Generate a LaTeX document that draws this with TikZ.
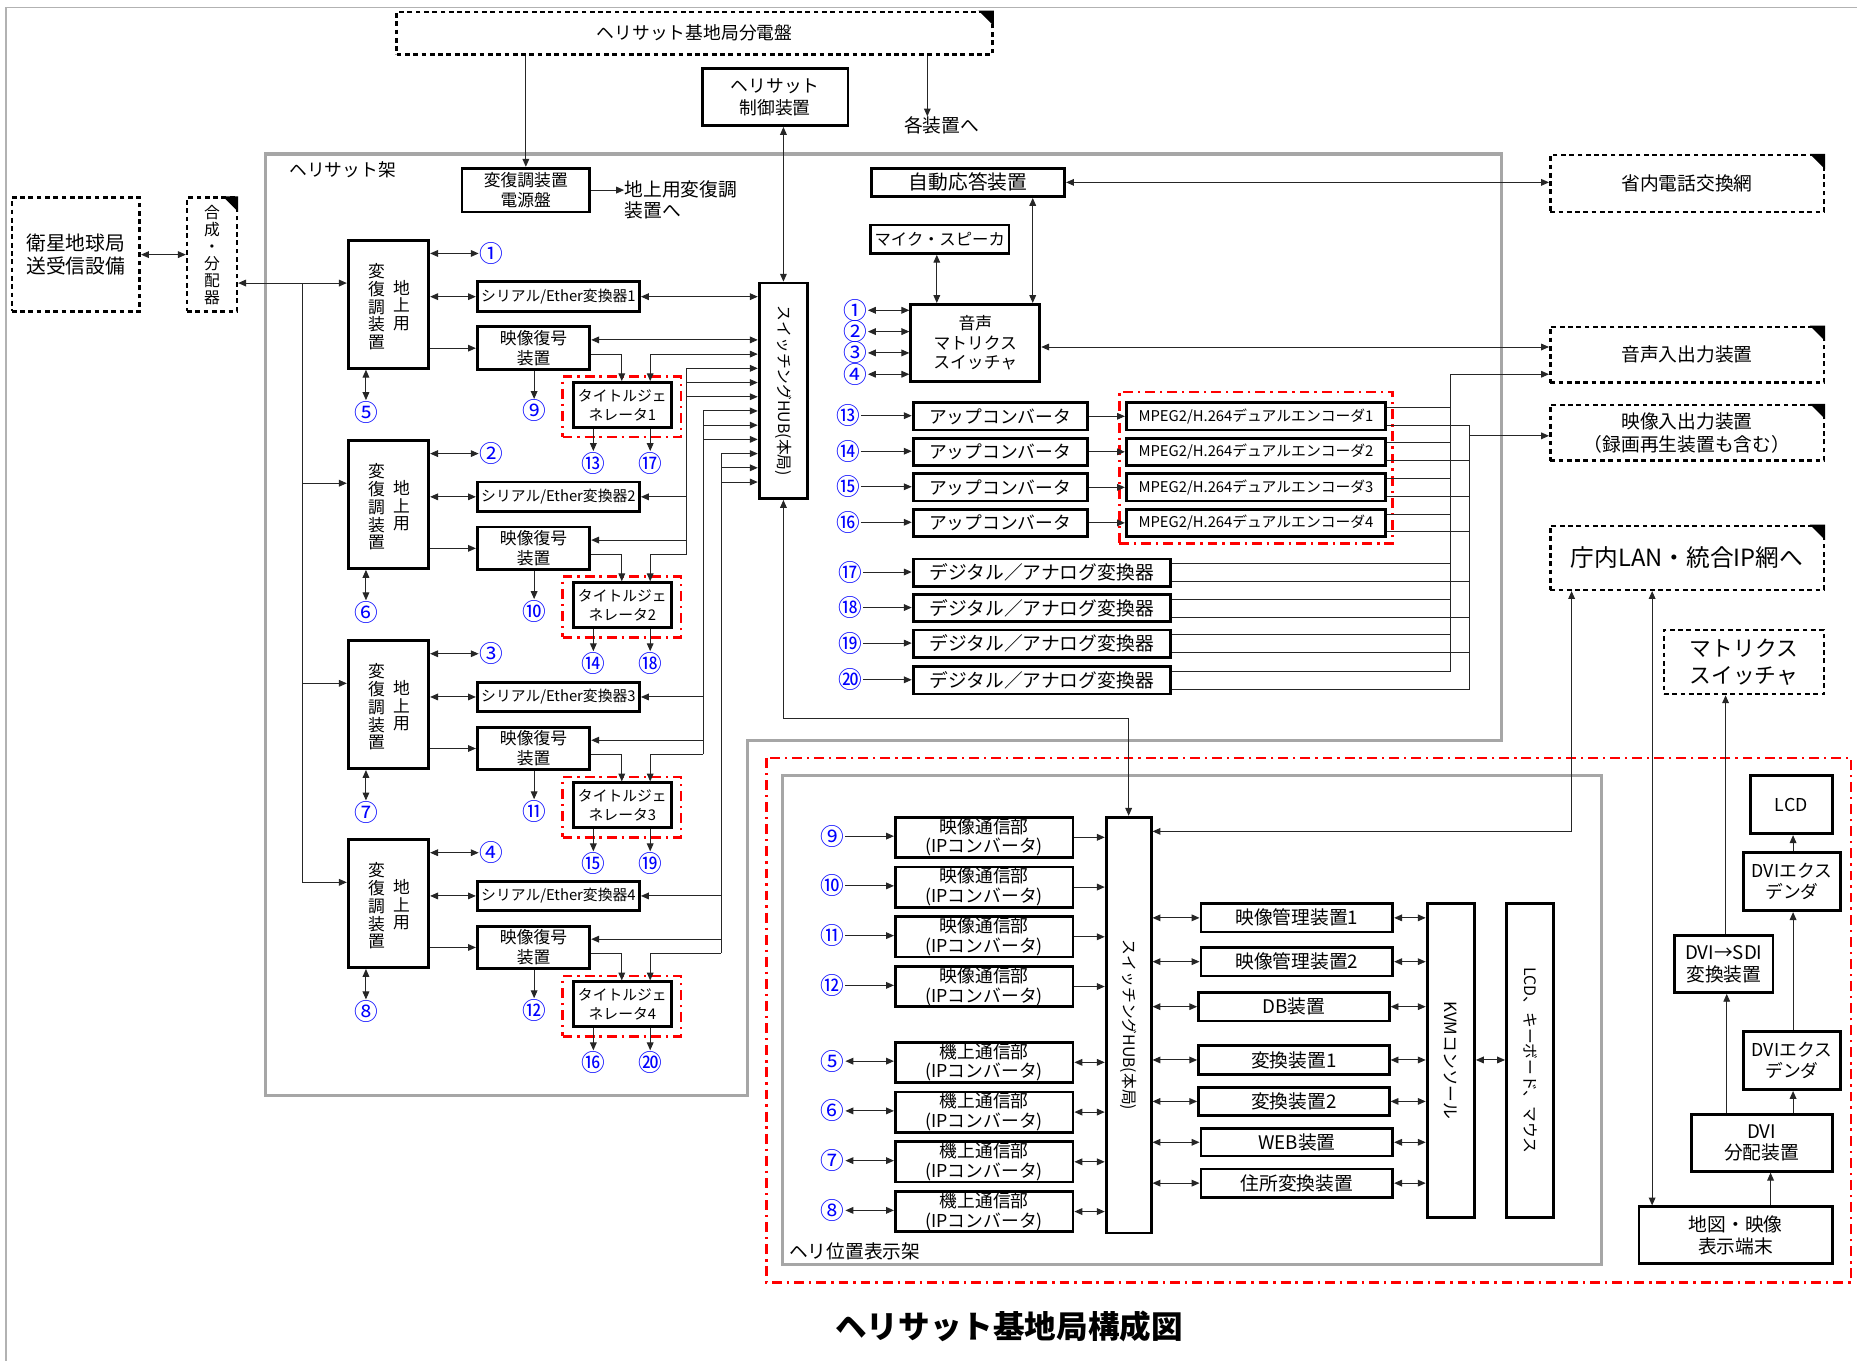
\documentclass[tikz,border=0pt]{standalone}
\usepackage{fontspec}
\setmainfont{Noto Sans CJK JP}
\usetikzlibrary{arrows.meta,calc}
\newcommand\fs[2]{\fontsize{#1}{#2}\selectfont}
\newcommand\corner[1]{\fill ($(#1.north east)+(-13,0)$) -- (#1.north east) -- ($(#1.north east)+(0,13)$) -- cycle;}
\newcommand\bx[7]{\node[#1, minimum width={((#4)-(#2))*0.6pt}, minimum height={((#5)-(#3))*0.6pt}] (#6) at ({((#2)+(#4))/2},{((#3)+(#5))/2}) {#7};}
\tikzset{
 B/.style={draw, line width=1.4pt, inner sep=0pt, align=center},
 D/.style={draw, line width=1.3pt, dash pattern=on 2.4pt off 1.8pt, inner sep=0pt, align=center},
 R/.style={draw=red, line width=1.4pt, dash pattern=on 5pt off 2.5pt on 1.2pt off 2.5pt, inner sep=0pt},
 G/.style={draw=gray!70, line width=1.6pt},
 ln/.style={line width=0.5pt, black!85},
 a/.style={ln, -{Triangle[length=4pt,width=3.4pt]}},
 aa/.style={ln, {Triangle[length=4pt,width=3.4pt]}-{Triangle[length=4pt,width=3.4pt]}},
 cn/.style={text=blue, font=\fs{12}{12}, inner sep=0.3pt},
 lab/.style={inner sep=0pt, align=left},
}
\begin{document}
\begin{tikzpicture}[x=0.6pt, y=-0.6pt]
\useasboundingbox (0,0) rectangle (1568,1149);
\draw[gray!60, line width=0.6pt] (5,1149) -- (5,6) -- (1568,6);

% frames
\draw[G] (224,130) -- (1268,130) -- (1268,625) -- (631,625) -- (631,925) -- (224,925) -- cycle;
\node[lab, anchor=west, font=\fs{9}{10}] (flabel) at (244,143) {ヘリサット架};
\draw[R] (647,640) rectangle (1563,1083);
\draw[G] (661,655) rectangle (1352,1068);
\node[lab, anchor=west, font=\fs{9.5}{10}] (hlabel) at (666,1057) {ヘリ位置表示架};

% top
\bx{D, font=\fs{9}{10}}{335}{10}{838}{46}{pd}{ヘリサット基地局分電盤}
\corner{pd}
\bx{B, font=\fs{9}{11}}{593}{58}{716}{106}{ctl}{ヘリサット\\制御装置}
\node[lab, font=\fs{9.5}{10}] (kak) at (795,106) {各装置へ};
\draw[a] (pd.south -| 783,0) -- (kak.north -| 783,0);
\bx{B, font=\fs{8.5}{10}}{390}{142}{498}{179}{psu}{変復調装置\\電源盤}
\draw[a] (pd.south -| psu.north) -- (psu.north);
\node[lab, anchor=north west, font=\fs{9.5}{11}] (chijo) at (527,152) {地上用変復調\\装置へ};
\draw[a] (psu.east) -- (chijo.north west |- psu.east);

% left
\bx{D, font=\fs{10}{12}}{10}{167}{118}{263}{eisei}{衛星地球局\\送受信設備}
\bx{D}{158}{167}{200}{263}{gosei}{}
\corner{gosei}
\node[font=\fs{8}{8.6}, align=center, inner sep=0pt] (goseit) at (gosei.center) {合\\成\\・\\分\\配\\器};
\draw[aa] (eisei.east) -- (gosei.west |- eisei.east);

% hub 1
\bx{B}{641}{239}{682}{421}{hub1}{}
\node[rotate=-90, font=\fs{8}{9}, inner sep=0pt] (hub1t) at (hub1.center) {スイッチングHUB(本局)};
\draw[aa] (ctl.south -| hub1.north) -- (hub1.north);

% units
\foreach \k/\T/\ca/\cb/\cc/\cd/\ce in {1/203/①/⑤/⑨/⑬/⑰,2/372/②/⑥/⑩/⑭/⑱,3/541/③/⑦/⑪/⑮/⑲,4/709/④/⑧/⑫/⑯/⑳}{
 \bx{B}{294}{\T}{362}{\T+108}{u\k}{}
 \node[font=\fs{8.5}{9}, align=center, inner sep=0pt] (ul\k) at (318,\T+56) {変\\復\\調\\装\\置};
 \node[font=\fs{8.5}{9}, align=center, inner sep=0pt] (ur\k) at (339,\T+55) {地\\上\\用};
 \bx{B, font=\fs{7.5}{9}}{403}{\T+35}{540}{\T+60}{ser\k}{シリアル/Ether変換器\k}
 \bx{B, font=\fs{8.5}{10}}{403}{\T+73}{498}{\T+109}{dec\k}{映像復号\\装置}
 \bx{R}{475}{\T+115}{575}{\T+166}{tgo\k}{}
 \bx{B, font=\fs{7.5}{9.5}}{484}{\T+120}{567}{\T+158}{tg\k}{タイトルジェ\\ネレータ\k}
 \node[cn] (ca\k) at (415,\T+11) {\ca};
 \node[cn] (cb\k) at (309,\T+145) {\cb};
 \node[cn] (cc\k) at (451,\T+144) {\cc};
 \node[cn] (cd\k) at (501,\T+188) {\cd};
 \node[cn] (ce\k) at (549,\T+188) {\ce};
 \draw[aa] (u\k.east |- ca\k.west) -- (ca\k.west);
 \draw[aa] (u\k.east |- ser\k.west) -- (ser\k.west);
 \draw[a] (u\k.east |- dec\k.west) -- (dec\k.west);
 \draw[aa] (u\k.south -| cb\k.north) -- (cb\k.north);
 \draw[a] (dec\k.south -| cc\k.north) -- (cc\k.north);
 \draw[a] (tg\k.south -| cd\k.north) -- (cd\k.north);
 \draw[a] (tg\k.south -| ce\k.north) -- (ce\k.north);
 \draw[a] (dec\k.east |- 0,\T+96) -| (tg\k.north -| 525,0);
}
\draw[aa] (gosei.east |- 0,239) -- (u1.west |- 0,239);
\draw[ln] (255,239) -- (255,745);
\foreach \k/\T in {2/372,3/541,4/709}{\draw[a] (255,\T+36) -- (u\k.west |- 0,\T+36);}

% unit 1 to hub
\draw[aa] (ser1.east) -- (hub1.west |- ser1.east);
\draw[aa] (dec1.east |- 0,287) -- (hub1.west |- 0,287);
\draw[aa] (hub1.west |- 0,299) -| (tg1.north -| 549,0);
% units 2-4 to hub
\foreach \k/\T/\bxx/\y in {2/372/580/311,3/541/594/347,4/709/609/383}{
 \draw[ln] (\bxx,\y) -- (\bxx,\T+96);
 \draw[a] (\bxx,\y) -- (hub1.west |- 0,\y);
 \draw[a] (\bxx,\y+12) -- (hub1.west |- 0,\y+12);
 \draw[a] (\bxx,\y+24) -- (hub1.west |- 0,\y+24);
 \draw[a] (ser\k.east -| \bxx,0) -- (ser\k.east);
 \draw[a] (\bxx,\T+84) -- (dec\k.east |- 0,\T+84);
 \draw[a] (\bxx,\T+96) -| (tg\k.north -| 549,0);
}

% upper right
\bx{B, font=\fs{10}{11}}{736}{142}{899}{166}{auto}{自動応答装置}
\bx{B, font=\fs{8.3}{10}}{735}{190}{852}{214}{mic}{マイク・スピーカ}
\bx{B, font=\fs{8.5}{10}}{769}{257}{878}{322}{mtx}{音声\\マトリクス\\スイッチャ}
\draw[aa] (mic.south -| 791,0) -- (mtx.north -| 791,0);
\draw[aa] (auto.south -| 872,0) -- (mtx.north -| 872,0);
\foreach \i/\y/\c in {1/262/①,2/280/②,3/298/③,4/316/④}{
 \node[cn] (m\i) at (722,\y) {\c};
 \draw[aa] (m\i.east) -- (mtx.west |- m\i.east);
}
\bx{D, font=\fs{9.5}{10}}{1309}{131}{1540}{179}{tel}{省内電話交換網}
\corner{tel}
\bx{D, font=\fs{9.5}{10}}{1309}{276}{1540}{323}{aio}{音声入出力装置}
\corner{aio}
\bx{D, font=\fs{9.5}{11.5}}{1309}{342}{1540}{389}{vio}{映像入出力装置\\（録画再生装置も含む）}
\corner{vio}
\bx{D, font=\fs{12}{13}}{1309}{444}{1540}{498}{lan}{庁内LAN・統合IP網へ}
\corner{lan}
\bx{D, font=\fs{11}{14}}{1405}{532}{1540}{586}{msw}{マトリクス\\スイッチャ}
\draw[aa] (auto.east) -- (tel.west |- auto.east);
\draw[aa] (mtx.east |- 0,293) -- (aio.west |- 0,293);

% converters / encoders
\bx{R}{945}{331}{1176}{459}{encR}{}
\foreach \i/\Y/\c in {1/340/⑬,2/370/⑭,3/400/⑮,4/430/⑯}{
 \node[cn] (q\i) at (716,\Y+11) {\c};
 \bx{B, font=\fs{9}{10}}{771}{\Y}{918}{\Y+23}{up\i}{アップコンバータ}
 \bx{B, font=\fs{7.5}{9}}{951}{\Y}{1170}{\Y+23}{enc\i}{MPEG2/H.264デュアルエンコーダ\i}
 \draw[a] (q\i.east) -- (up\i.west |- q\i.east);
 \draw[a] (up\i.east) -- (enc\i.west |- up\i.east);
}
\foreach \i/\Y/\c in {1/472/⑰,2/502/⑱,3/532/⑲,4/563/⑳}{
 \node[cn] (p\i) at (718,\Y+11) {\c};
 \bx{B, font=\fs{9.5}{10}}{771}{\Y}{988}{\Y+23}{da\i}{デジタル／アナログ変換器}
 \draw[a] (p\i.east) -- (da\i.west |- p\i.east);
}
\foreach \n/\Y in {enc1/340,enc2/370,enc3/400,enc4/430,da1/472,da2/502,da3/532,da4/563}{
 \draw[ln] (\n.east |- 0,\Y+4) -- (1225,\Y+4);
 \draw[ln] (\n.east |- 0,\Y+19) -- (1241,\Y+19);
}
\draw[a] (1225,567) -- (1225,316) -- (aio.west |- 0,316);
\draw[ln] (1241,359) -- (1241,582);
\draw[a] (1241,368) -- (vio.west |- 0,368);

% lower section
\bx{B}{934}{690}{972}{1041}{hub2}{}
\node[rotate=-90, font=\fs{8}{9}, inner sep=0pt] (hub2t) at (hub2.center) {スイッチングHUB(本局)};
\draw[aa] (hub1.south) |- (hub2.north |- 0,607) -- (hub2.north);
\foreach \i/\Y/\c in {1/690/⑨,2/732/⑩,3/774/⑪,4/816/⑫}{
 \node[cn] (cv\i) at (703,\Y+16) {\c};
 \bx{B, font=\fs{9}{10}}{756}{\Y}{906}{\Y+34}{vc\i}{映像通信部\\(IPコンバータ)}
 \draw[a] (cv\i.east) -- (vc\i.west |- cv\i.east);
 \draw[a] (vc\i.east) -- (hub2.west |- vc\i.east);
}
\foreach \i/\Y/\c in {1/880/⑤,2/922/⑥,3/964/⑦,4/1006/⑧}{
 \node[cn] (ck\i) at (703,\Y+16) {\c};
 \bx{B, font=\fs{9}{10}}{756}{\Y}{906}{\Y+34}{ac\i}{機上通信部\\(IPコンバータ)}
 \draw[aa] (ck\i.east) -- (ac\i.west |- ck\i.east);
 \draw[aa] (ac\i.east) -- (hub2.west |- ac\i.east);
}
\bx{B}{1205}{763}{1245}{1028}{kvm}{}
\node[rotate=-90, font=\fs{8.5}{9}, inner sep=0pt] (kvmt) at (kvm.center) {KVMコンソール};
\bx{B}{1272}{763}{1312}{1028}{lkm}{}
\node[rotate=-90, font=\fs{8}{9}, inner sep=0pt] (lkmt) at (lkm.center) {LCD、キーボード、マウス};
\draw[aa] (kvm.east |- 0,895) -- (lkm.west |- 0,895);
\foreach \n/\xa/\ya/\xb/\yb/\t in {r1/1014/763/1176/787/映像管理装置1, r2/1014/800/1176/824/映像管理装置2, r3/1012/838/1173/862/DB装置, r4/1012/883/1173/907/変換装置1, r5/1012/918/1173/942/変換装置2, r6/1014/953/1176/976/WEB装置, r7/1014/987/1176/1011/住所変換装置}{
 \bx{B, font=\fs{9.5}{10}}{\xa}{\ya}{\xb}{\yb}{\n}{\t}
 \draw[aa] (hub2.east |- \n.west) -- (\n.west);
 \draw[aa] (\n.east) -- (kvm.west |- \n.east);
}
\draw[aa] (hub2.east |- 0,702) -| (lan.south -| 1327,0);

% right column
\bx{B, font=\fs{9}{10}}{1478}{655}{1547}{704}{lcd}{LCD}
\bx{B, font=\fs{9}{10.5}}{1472}{720}{1554}{769}{dx1}{DVIエクス\\デンダ}
\bx{B, font=\fs{9.5}{11}}{1414}{790}{1497}{838}{sdi}{DVI→SDI\\変換装置}
\bx{B, font=\fs{9}{10.5}}{1472}{871}{1554}{920}{dx2}{DVIエクス\\デンダ}
\bx{B, font=\fs{9.5}{11}}{1428}{941}{1547}{989}{dist}{DVI\\分配装置}
\bx{B, font=\fs{9.5}{11}}{1384}{1019}{1547}{1067}{map}{地図・映像\\表示端末}
\draw[aa] (lan.south -| 1395,0) -- (map.north -| 1395,0);
\draw[a] (map.north -| 1495,0) -- (dist.south -| 1495,0);
\draw[a] (dist.north -| 1514,0) -- (dx2.south -| 1514,0);
\draw[a] (dist.north -| 1458,0) -- (sdi.south -| 1458,0);
\draw[a] (dx2.north -| 1514,0) -- (dx1.south -| 1514,0);
\draw[a] (dx1.north -| 1514,0) -- (lcd.south -| 1514,0);
\draw[a] (sdi.north -| 1457,0) -- (msw.south -| 1457,0);

% title
\node[font=\fs{16}{18}\bfseries] (title) at (852,1120) {ヘリサット基地局構成図};
\end{tikzpicture}
\end{document}
